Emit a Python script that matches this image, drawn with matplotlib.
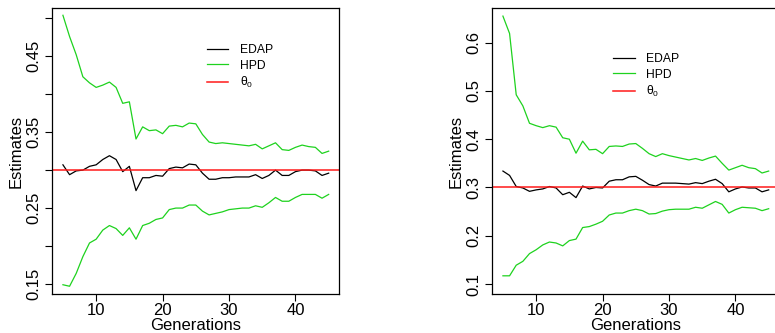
import numpy as np
import matplotlib
matplotlib.use('Agg')
import matplotlib.pyplot as plt

plt.rcParams['font.family'] = ['Liberation Sans', 'DejaVu Sans']
plt.rcParams['mathtext.fontset'] = 'custom'
plt.rcParams['mathtext.rm'] = 'Liberation Sans'
plt.rcParams['mathtext.it'] = 'Liberation Sans'

generations = list(range(5, 46))
theta0 = 0.30

# panel 1
edap_1 = [0.307, 0.294, 0.299, 0.300, 0.305, 0.307, 0.314, 0.319, 0.314, 0.298,
          0.305, 0.273, 0.290, 0.290, 0.293, 0.292, 0.302, 0.304, 0.303, 0.308,
          0.307, 0.296, 0.288, 0.288, 0.290, 0.290, 0.291, 0.291, 0.291, 0.294,
          0.289, 0.293, 0.300, 0.293, 0.293, 0.298, 0.300, 0.300, 0.299, 0.293,
          0.296]
hpd_up_1 = [0.504, 0.476, 0.452, 0.423, 0.415, 0.409, 0.412, 0.416, 0.409, 0.388,
            0.390, 0.341, 0.357, 0.352, 0.353, 0.348, 0.358, 0.359, 0.357, 0.362,
            0.361, 0.347, 0.337, 0.335, 0.336, 0.335, 0.334, 0.333, 0.332, 0.334,
            0.328, 0.332, 0.336, 0.327, 0.326, 0.330, 0.333, 0.331, 0.330, 0.322,
            0.325]
hpd_lo_1 = [0.149, 0.147, 0.164, 0.186, 0.204, 0.209, 0.221, 0.227, 0.223, 0.214,
            0.224, 0.209, 0.227, 0.230, 0.235, 0.237, 0.248, 0.250, 0.250, 0.254,
            0.254, 0.246, 0.241, 0.243, 0.245, 0.248, 0.249, 0.250, 0.250, 0.253,
            0.251, 0.257, 0.264, 0.259, 0.259, 0.264, 0.268, 0.268, 0.268, 0.263,
            0.268]

# panel 2
edap_2 = [0.334, 0.325, 0.302, 0.299, 0.292, 0.295, 0.297, 0.302, 0.299, 0.285,
          0.290, 0.279, 0.303, 0.297, 0.300, 0.299, 0.313, 0.316, 0.316, 0.322,
          0.323, 0.315, 0.306, 0.303, 0.309, 0.309, 0.309, 0.308, 0.307, 0.310,
          0.308, 0.313, 0.317, 0.308, 0.291, 0.297, 0.301, 0.299, 0.299, 0.291,
          0.295]
hpd_up_2 = [0.655, 0.619, 0.492, 0.469, 0.433, 0.428, 0.424, 0.428, 0.425, 0.403,
            0.400, 0.371, 0.396, 0.378, 0.379, 0.370, 0.385, 0.386, 0.385, 0.390,
            0.391, 0.381, 0.370, 0.364, 0.370, 0.366, 0.363, 0.360, 0.357, 0.360,
            0.356, 0.361, 0.365, 0.350, 0.336, 0.341, 0.346, 0.341, 0.339, 0.330,
            0.334]
hpd_lo_2 = [0.117, 0.117, 0.139, 0.147, 0.163, 0.171, 0.181, 0.187, 0.185, 0.179,
            0.190, 0.193, 0.217, 0.219, 0.224, 0.230, 0.243, 0.247, 0.247, 0.252,
            0.255, 0.252, 0.245, 0.246, 0.251, 0.254, 0.255, 0.255, 0.255, 0.259,
            0.257, 0.264, 0.271, 0.265, 0.247, 0.254, 0.259, 0.258, 0.257, 0.252,
            0.256]

green = '#1ed21e'

fig = plt.figure(figsize=(7.75, 3.33), dpi=100)
ax1 = fig.add_axes([52.3 / 775, 38.7 / 333, 287 / 775, 286.3 / 333])
ax2 = fig.add_axes([492.3 / 775, 38.7 / 333, 287 / 775, 286.3 / 333])


def draw(ax, edap, up, lo, ylim, yticks, ylabels, leg_pos):
    ax.plot(generations, edap, color='black', lw=0.9, label='EDAP')
    ax.plot(generations, up, color=green, lw=0.9, label='HPD')
    ax.plot(generations, lo, color=green, lw=0.9)
    ax.axhline(theta0, color='#ff1a1a', lw=1.1, label='θ$_0$')
    ax.set_xlim(3.4, 46.6)
    ax.set_ylim(*ylim)
    ax.set_xticks([10, 20, 30, 40])
    ax.set_yticks(yticks)
    ax.set_yticklabels(ylabels, rotation=90, va='center')
    ax.tick_params(direction='out', length=5, width=0.8, labelsize=12)
    ax.tick_params(axis='y', pad=3)
    ax.tick_params(axis='x', pad=1.5)
    for s in ax.spines.values():
        s.set_linewidth(0.9)
    ax.set_xlabel('Generations', fontsize=12, labelpad=-0.3)
    ax.set_ylabel('Estimates', fontsize=12, labelpad=2)
    ax.legend(frameon=False, loc='upper left', bbox_to_anchor=leg_pos,
              fontsize=8.7, handlelength=1.8, handletextpad=0.95,
              labelspacing=0.3, borderpad=0, borderaxespad=0)


yt1 = [0.15, 0.20, 0.25, 0.30, 0.35, 0.40, 0.45, 0.50]
yl1 = ['0.15', '', '0.25', '', '0.35', '', '0.45', '']
draw(ax1, edap_1, hpd_up_1, hpd_lo_1, (0.1364, 0.5136), yt1, yl1, (0.538, 0.874))

yt2 = [0.1, 0.2, 0.3, 0.4, 0.5, 0.6]
yl2 = ['0.1', '0.2', '0.3', '0.4', '0.5', '0.6']
draw(ax2, edap_2, hpd_up_2, hpd_lo_2, (0.0787, 0.6718), yt2, yl2, (0.42, 0.843))

fig.savefig('out.png', dpi=100)
